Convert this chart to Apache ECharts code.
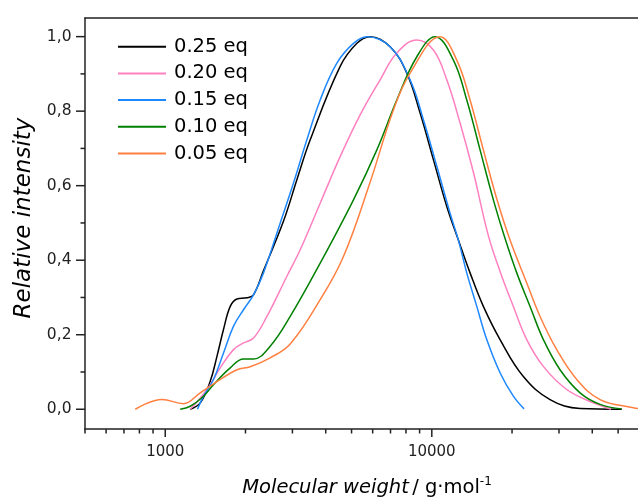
<!DOCTYPE html>
<html>
<head>
<meta charset="utf-8">
<script src="https://cdn.jsdelivr.net/npm/echarts@6/dist/echarts.min.js"></script>
<style>html,body{margin:0;padding:0;background:#fff}#c{width:638px;height:498px}</style>
</head>
<body>
<div id="c"></div>
<script>
// Series names
const seriesNames = ['0.25 eq', '0.20 eq', '0.15 eq', '0.10 eq', '0.05 eq'];
// [molecular weight, relative intensity]
const s025 = [[1241,0],[1353,0.017],[1475,0.075],[1563,0.142],[1654,0.214],[1753,0.276],[1858,0.296],[2025,0.299],[2144,0.307],[2337,0.372],[2778,0.505],[3118,0.616],[3498,0.723],[4531,0.920],[5236,0.982],[5873,1.0],[6979,0.973],[8059,0.902],[9040,0.795],[10139,0.670],[11382,0.544],[12580,0.454],[13917,0.366],[15612,0.276],[18033,0.187],[22055,0.088],[27770,0.026],[35993,0.002],[51584,0]];
const s020 = [[1241,0],[1434,0.053],[1608,0.111],[1804,0.160],[1966,0.178],[2144,0.191],[2406,0.249],[2860,0.357],[3208,0.428],[3813,0.553],[4531,0.678],[5386,0.790],[6401,0.884],[7391,0.956],[8786,0.991],[10139,0.964],[11382,0.884],[12767,0.768],[14322,0.636],[16301,0.466],[18033,0.370],[20230,0.276],[22709,0.187],[26213,0.115],[32078,0.053],[40365,0.017],[45320,0.004],[47000,0]];
const s015 = [[1321,0],[1392,0.035],[1517,0.080],[1654,0.151],[1804,0.223],[1966,0.267],[2144,0.307],[2337,0.366],[2700,0.500],[3028,0.607],[3399,0.723],[3813,0.830],[4404,0.929],[5083,0.982],[5706,1.0],[6979,0.973],[8292,0.884],[9300,0.777],[10443,0.652],[11711,0.526],[12580,0.454],[13526,0.366],[14749,0.276],[16076,0.187],[18033,0.098],[20230,0.035],[22187,0.001]];
const s010 = [[1138,0],[1241,0.008],[1392,0.035],[1517,0.066],[1753,0.111],[1966,0.135],[2144,0.135],[2476,0.169],[2943,0.249],[3813,0.392],[5083,0.562],[6221,0.696],[7391,0.830],[8786,0.946],[10290,1.0],[12050,0.937],[13526,0.830],[15173,0.696],[17020,0.562],[18830,0.458],[20831,0.366],[23366,0.276],[26213,0.187],[30276,0.106],[35993,0.044],[42756,0.013],[51584,0.001]];
const s005 = [[772,0],[972,0.026],[1171,0.015],[1353,0.044],[1517,0.068],[1858,0.106],[2084,0.114],[2476,0.138],[2943,0.175],[3813,0.294],[4662,0.410],[5873,0.610],[7178,0.803],[8292,0.902],[10742,1.0],[12406,0.937],[13917,0.830],[15612,0.696],[17525,0.565],[19662,0.454],[22709,0.339],[25475,0.249],[29424,0.160],[34980,0.080],[42756,0.026],[57016,0.004],[59370,0.002]];
const colors = ['#000000', '#ff80c0', '#1e88ff', '#008000', '#ff8040'];

// Axis ticks and labels
const yMajorTicks = [0, 0.2, 0.4, 0.6, 0.8, 1.0];
const yTickLabels = ['0,0', '0,2', '0,4', '0,6', '0,8', '1,0'];
const yMinorTicks = [0.1, 0.3, 0.5, 0.7, 0.9];
const xMajorTicks = [1000, 10000];
const xTickLabels = ['1000', '10000'];
const xMinorTicks = [500, 600, 700, 800, 900, 2000, 3000, 4000, 5000, 6000, 7000, 8000, 9000, 20000, 30000, 40000, 50000];

const xMin = 500, xMax = 59370, yMin = -0.053, yMax = 1.05;
const FONT = 'DejaVu Sans';

const chart = echarts.init(document.getElementById('c'), null, {renderer: 'canvas'});

function lineSeries(name, data, color) {
  return {
    name: name, type: 'line', data: data, showSymbol: false, smooth: 0.4,
    color: color, lineStyle: {color: color, width: 1.5}, z: 3
  };
}

function tickSeries(data, isX, len, labels) {
  return {
    type: 'custom', coordinateSystem: 'cartesian2d', clip: false, silent: true, z: 5,
    data: data.map(v => isX ? [v, yMin] : [xMin, v]),
    renderItem: function (params, api) {
      const p = api.coord([api.value(0), api.value(1)]);
      const children = [];
      if (isX) {
        children.push({type: 'line', shape: {x1: p[0], y1: p[1], x2: p[0], y2: p[1] + len}, style: {stroke: '#222', lineWidth: 1.5}});
        if (labels) children.push({type: 'text', style: {text: labels[params.dataIndex], x: p[0], y: p[1] + 23, align: 'center', verticalAlign: 'middle', font: '15px "' + FONT + '"', fill: '#222'}});
      } else {
        children.push({type: 'line', shape: {x1: p[0] - len, y1: p[1], x2: p[0], y2: p[1]}, style: {stroke: '#222', lineWidth: 1.5}});
        if (labels) children.push({type: 'text', style: {text: labels[params.dataIndex], x: p[0] - 13.5, y: p[1], align: 'right', verticalAlign: 'middle', font: '15.5px "' + FONT + '"', fill: '#222'}});
      }
      return {type: 'group', children: children};
    }
  };
}

const option = {
  animation: false,
  backgroundColor: '#fff',
  grid: {left: 85, top: 18, right: 0, bottom: 69, containLabel: false},
  xAxis: [
    {type: 'log', min: xMin, max: xMax, logBase: 10,
     axisLine: {show: true, onZero: false, lineStyle: {color: '#222', width: 1.5}},
     axisTick: {show: false}, axisLabel: {show: false}, splitLine: {show: false}, minorTick: {show: false}},
    {type: 'log', position: 'top', min: xMin, max: xMax, logBase: 10,
     axisLine: {show: true, onZero: false, lineStyle: {color: '#222', width: 1.5}},
     axisTick: {show: false}, axisLabel: {show: false}, splitLine: {show: false}}
  ],
  yAxis: {type: 'value', min: yMin, max: yMax,
    axisLine: {show: true, onZero: false, lineStyle: {color: '#222', width: 1.5}},
    axisTick: {show: false}, axisLabel: {show: false}, splitLine: {show: false}},
  legend: {
    data: seriesNames, orient: 'vertical', left: 118, top: 36.7, padding: 0,
    icon: 'rect', itemWidth: 48, itemHeight: 2, itemGap: 6.7,
    textStyle: {fontFamily: FONT, fontSize: 19.5, color: '#000', lineHeight: 20, padding: [0, 0, 0, 3]}
  },
  series: [
    lineSeries(seriesNames[0], s025, colors[0]),
    lineSeries(seriesNames[1], s020, colors[1]),
    lineSeries(seriesNames[2], s015, colors[2]),
    lineSeries(seriesNames[3], s010, colors[3]),
    lineSeries(seriesNames[4], s005, colors[4]),
    tickSeries(yMajorTicks, false, 9, yTickLabels),
    tickSeries(yMinorTicks, false, 4.5, null),
    tickSeries(xMajorTicks, true, 8, xTickLabels),
    tickSeries(xMinorTicks, true, 4.5, null)
  ],
  graphic: [
    {type: 'text', x: 24, y: 218, rotation: Math.PI / 2, z: 10,
     style: {text: 'Relative intensity', font: 'italic 23px "' + FONT + '"', fill: '#000', align: 'center', verticalAlign: 'middle'}},
    {type: 'text', x: 367, y: 488, z: 10,
     style: {text: '{i|Molecular weight} {n|/ g·mol}{s|-1}', align: 'center', verticalAlign: 'middle',
       rich: {
         i: {fontFamily: FONT, fontStyle: 'italic', fontSize: 19.5, fill: '#000', lineHeight: 24},
         n: {fontFamily: FONT, fontSize: 19.5, fill: '#000', lineHeight: 24},
         s: {fontFamily: FONT, fontSize: 12, fill: '#000', lineHeight: 24, verticalAlign: 'top'}
       }}}
  ]
};
chart.setOption(option);
</script>
</body>
</html>
